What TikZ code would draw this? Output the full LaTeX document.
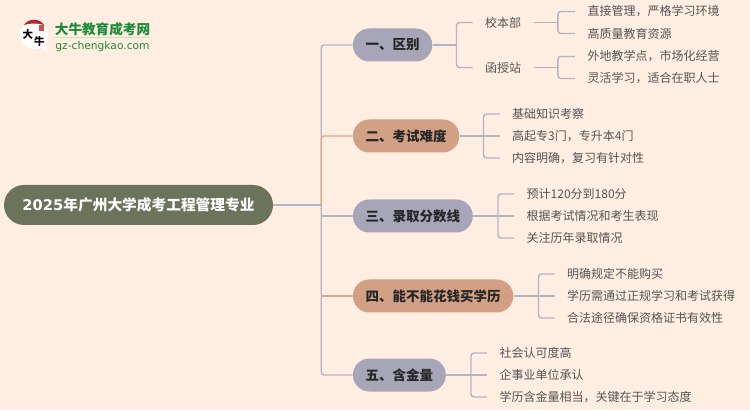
\documentclass[tikz,border=0pt]{standalone}
\usepackage{fontspec}
\usepackage{tikz}
\usetikzlibrary{positioning}
\setmainfont{Noto Sans CJK SC}
\newfontfamily\latinfont{DejaVu Sans}
\definecolor{paper}{HTML}{FFEEE1}
\definecolor{rootcol}{HTML}{6B735B}
\definecolor{greycol}{HTML}{A6A6B8}
\definecolor{tancol}{HTML}{D2A085}
\definecolor{linkcol}{HTML}{B4B4C8}
\definecolor{warmlink}{HTML}{E0A888}
\definecolor{leaftext}{HTML}{555555}
\definecolor{logogreen}{HTML}{1E8A3A}
\definecolor{logored}{HTML}{B8262A}
\tikzset{
  rootnode/.style={rounded corners=20pt, fill=rootcol, text=white, minimum height=40pt, minimum width=269pt, inner sep=0pt, font=\fontsize{14.7}{16}\selectfont\bfseries},
  branchnode/.style={rounded corners=16.5pt, fill=greycol, text=black!85, minimum height=33pt, inner xsep=12.7pt, inner ysep=0pt, font=\fontsize{13.5}{16}\selectfont\bfseries},
  warmnode/.style={branchnode, fill=tancol},
  leafnode/.style={inner xsep=12.5pt, inner ysep=0pt, text=leaftext, font=\fontsize{12}{14}\selectfont},
  marktext/.style={inner sep=0pt, text=black, font=\fontsize{10.5}{11}\selectfont\bfseries},
  link/.style={draw=linkcol, line width=1.4pt, rounded corners=3pt},
  warmlinkline/.style={draw=warmlink, line width=1.4pt, rounded corners=3pt},
}
\begin{document}
\begin{tikzpicture}[x=1pt,y=1pt]
\path[use as bounding box, fill=paper] (0,0) rectangle (750,410);
% logo
\fill[white] (34,375) circle (14pt);
\fill[white] (40,363) -- (48,358) -- (45,367) -- cycle;
\fill[logored] (24,385) .. controls (28,392) and (40,392) .. (44,385) .. controls (38,387) and (30,387) .. (24,385) -- cycle;
\fill[logored!80!white] (39,379) rectangle (44,385);
\node[marktext] (logoda) at (28,376) {大};
\node[marktext] (logoniu) at (39.5,368) {牛};
\node (logotitle) at (102.5,381) [inner sep=0pt, text=logogreen, font=\fontsize{13.6}{15}\selectfont\bfseries] {大牛教育成考网};
\node (logourl) [below=5pt of logotitle, inner sep=0pt, text=logogreen, font=\latinfont\fontsize{10.7}{11}\selectfont] {gz-chengkao.com};
\draw[logogreen!20!paper, line width=1pt] (logotitle.south west) ++(0,-2pt) -- ++(95pt,0);

\node[rootnode] (root) at (138.5,205) {{\latinfont 2025}年广州大学成考工程管理专业};
\node[branchnode] (b1) [right=79.5pt of root, yshift=160pt] {一、区别};
\node[warmnode] (b2) [right=79.5pt of root, yshift=69pt] {二、考试难度};
\node[branchnode] (b3) [right=79.5pt of root, yshift=-11pt] {三、录取分数线};
\node[warmnode] (b4) [right=79.5pt of root, yshift=-91pt] {四、能不能花钱买学历};
\node[branchnode] (b5) [right=79.5pt of root, yshift=-170pt] {五、含金量};
\coordinate (trunk) at ([xshift=48pt]root.east);

\node[leafnode] (s1) [right=40pt of b1, yshift=22.5pt] {校本部};
\node[leafnode] (s2) [right=40pt of b1, yshift=-22.5pt] {函授站};
\node[leafnode] (l11) [right=41pt of s1, yshift=11pt] {直接管理，严格学习环境};
\node[leafnode] (l12) [right=41pt of s1, yshift=-11pt] {高质量教育资源};
\node[leafnode] (l13) [right=41pt of s2, yshift=11pt] {外地教学点，市场化经营};
\node[leafnode] (l14) [right=41pt of s2, yshift=-11pt] {灵活学习，适合在职人士};

\node[leafnode] (l21) [right=40pt of b2, yshift=22pt] {基础知识考察};
\node[leafnode] (l22) [right=40pt of b2] {高起专3门，专升本4门};
\node[leafnode] (l23) [right=40pt of b2, yshift=-22pt] {内容明确，复习有针对性};

\node[leafnode] (l31) [right=41pt of b3, yshift=22pt] {预计120分到180分};
\node[leafnode] (l32) [right=41pt of b3] {根据考试情况和考生表现};
\node[leafnode] (l33) [right=41pt of b3, yshift=-22pt] {关注历年录取情况};

\node[leafnode] (l41) [right=41pt of b4, yshift=22pt] {明确规定不能购买};
\node[leafnode] (l42) [right=41pt of b4] {学历需通过正规学习和考试获得};
\node[leafnode] (l43) [right=41pt of b4, yshift=-22pt] {合法途径确保资格证书有效性};

\node[leafnode] (l51) [right=41pt of b5, yshift=22pt] {社会认可度高};
\node[leafnode] (l52) [right=41pt of b5] {企事业单位承认};
\node[leafnode] (l53) [right=41pt of b5, yshift=-22pt] {学历含金量相当，关键在于学习态度};

\coordinate (j1) at ([xshift=24pt]b1.east);
\coordinate (j2) at ([xshift=24pt]b2.east);
\coordinate (j3) at ([xshift=25pt]b3.east);
\coordinate (j4) at ([xshift=25pt]b4.east);
\coordinate (j5) at ([xshift=25pt]b5.east);
\coordinate (js1) at ([xshift=24pt]s1.east);
\coordinate (js2) at ([xshift=24pt]s2.east);

\draw[link] (root.east) -- (trunk);
\draw[link] (b1.west) -| (trunk) |- (b5.west);
\draw[link] (trunk |- b3) -- (b3.west);
\draw[warmlinkline] (b2.west) -| (trunk);
\draw[warmlinkline] (b4.west) -- (trunk |- b4);

\draw[link] (b1.east) -- (j1);
\draw[link] (s1.west) -| (j1) |- (s2.west);
\draw[link] (s1.east) -- (js1);
\draw[link] (l11.west) -| (js1) |- (l12.west);
\draw[link] (s2.east) -- (js2);
\draw[link] (l13.west) -| (js2) |- (l14.west);

\draw[link] (b2.east) -- (j2) -- (l22.west);
\draw[link] (l21.west) -| (j2) |- (l23.west);
\draw[link] (b3.east) -- (j3) -- (l32.west);
\draw[link] (l31.west) -| (j3) |- (l33.west);
\draw[link] (b4.east) -- (j4) -- (l42.west);
\draw[link] (l41.west) -| (j4) |- (l43.west);
\draw[link] (b5.east) -- (j5) -- (l52.west);
\draw[link] (l51.west) -| (j5) |- (l53.west);
\end{tikzpicture}
\end{document}
